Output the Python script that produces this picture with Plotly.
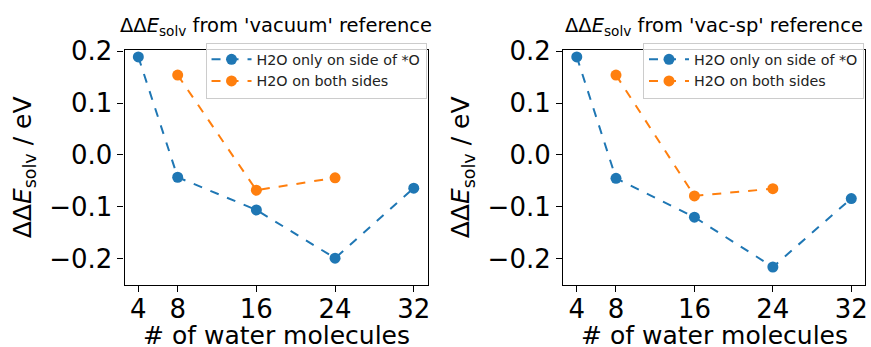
import plotly.graph_objects as go

n_water = [4, 8, 16, 24, 32]
n_water_both = [8, 16, 24]
vac_side = [0.189, -0.043, -0.106, -0.199, -0.064]
vac_both = [0.154, -0.068, -0.044]
vacsp_side = [0.189, -0.045, -0.120, -0.216, -0.084]
vacsp_both = [0.154, -0.079, -0.065]
x_ticks = [4, 8, 16, 24, 32]
y_ticks = [-0.2, -0.1, 0.0, 0.1, 0.2]
name_side = "H2O only on side of *O"
name_both = "H2O on both sides"
titles = ["ΔΔ<i>E</i><sub>solv</sub> from 'vacuum' reference",
          "ΔΔ<i>E</i><sub>solv</sub> from 'vac-sp' reference"]
x_title = "# of water molecules"
y_title = "ΔΔ<i>E</i><sub>solv</sub> / eV"

BLUE = "#1f77b4"
ORANGE = "#ff7f0e"
FONT = "DejaVu Sans"
W, H = 871, 347

fig = go.Figure()

def add(xs, ys, name, color, xa, ya, leg):
    fig.add_trace(go.Scatter(
        x=xs, y=ys, name=name, mode="lines+markers",
        line=dict(color=color, width=2, dash="dash"),
        marker=dict(color=color, size=11),
        xaxis=xa, yaxis=ya, legend=leg))

add(n_water, vac_side, name_side, BLUE, "x", "y", "legend")
add(n_water_both, vac_both, name_both, ORANGE, "x", "y", "legend")
add(n_water, vacsp_side, name_side, BLUE, "x2", "y2", "legend2")
add(n_water_both, vacsp_both, name_both, ORANGE, "x2", "y2", "legend2")

ytop = 1 - 37.7 / H
ybot = 1 - 282 / H
dom1 = [125 / W, 429 / W]
dom2 = [565 / W, 868 / W]

axis_common = dict(
    showline=True, linecolor="black", linewidth=1.2, mirror=True,
    ticks="outside", ticklen=6, tickwidth=1.2, tickcolor="black",
    showgrid=False, zeroline=False,
    tickfont=dict(family=FONT, size=26, color="black"),
)

xcommon = dict(axis_common, range=[2.6, 33.4], tickvals=x_ticks,
               ticklabelstandoff=-5)
ycommon = dict(axis_common, range=[-0.25, 0.202], tickvals=y_ticks,
               tickformat=".1f",
               title=dict(text=y_title,
                          font=dict(family=FONT, size=25, color="black"),
                          standoff=10))

legend_common = dict(
    bgcolor="rgba(255,255,255,0.8)", bordercolor="#cccccc", borderwidth=1,
    font=dict(family=FONT, size=14.3, color="#222"),
    xanchor="right", yanchor="top", tracegroupgap=0,
    itemwidth=40,
)

fig.update_layout(
    width=W, height=H,
    margin=dict(l=0, r=0, t=0, b=0),
    paper_bgcolor="white", plot_bgcolor="white",
    font=dict(family=FONT, color="black"),
    xaxis=dict(xcommon, domain=dom1, anchor="y"),
    yaxis=dict(ycommon, domain=[ybot, ytop], anchor="x"),
    xaxis2=dict(xcommon, domain=dom2, anchor="y2"),
    yaxis2=dict(ycommon, domain=[ybot, ytop], anchor="x2"),
    legend=dict(legend_common, x=dom1[1] - 1 / W, y=ytop + 8 / H),
    legend2=dict(legend_common, x=dom2[1] - 1 / W, y=ytop + 8 / H),
    showlegend=True,
)

for t, dom in zip(titles, [dom1, dom2]):
    fig.add_annotation(
        text=t, x=(dom[0] + dom[1]) / 2, y=ytop + 10 / H,
        xref="paper", yref="paper", xanchor="center", yanchor="bottom",
        showarrow=False, font=dict(family=FONT, size=19.5, color="black"))
    fig.add_annotation(
        text=x_title, x=(dom[0] + dom[1]) / 2, y=(H - 334.5) / H,
        xref="paper", yref="paper", xanchor="center", yanchor="middle",
        showarrow=False, font=dict(family=FONT, size=25, color="black"))

fig.write_html("out.html")
